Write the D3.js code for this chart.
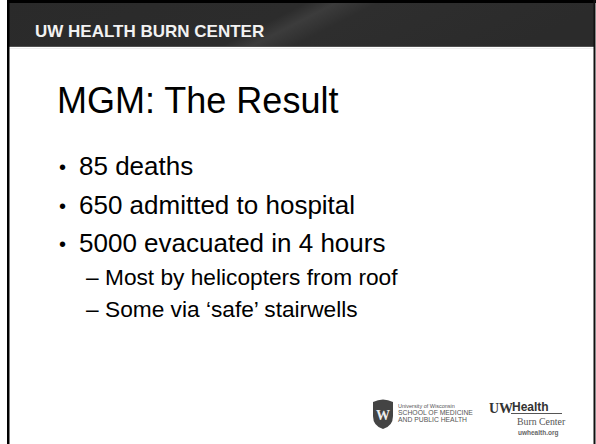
<!DOCTYPE html>
<html>
<head>
<meta charset="utf-8">
<script src="https://cdn.jsdelivr.net/npm/d3@7"></script>
<style>
  body { margin: 0; background: #fff; }
  svg { display: block; font-family: "Liberation Sans", Arial, sans-serif; }
</style>
</head>
<body>
<div id="slide"></div>
<script>
// slide content
let headerText = "UW HEALTH BURN CENTER";
let titleText = "MGM: The Result";
let bulletTexts = ["85 deaths", "650 admitted to hospital", "5000 evacuated in 4 hours"];
let subBulletTexts = ["Most by helicopters from roof", "Some via \u2018safe\u2019 stairwells"];
let schoolLines = ["University of Wisconsin", "SCHOOL OF MEDICINE", "AND PUBLIC HEALTH"];
let burnLines = ["Burn Center", "uwhealth.org"];

let svgWidth = 596;
let svgHeight = 444;

let svg = d3.select("#slide")
            .append("svg")
            .attr("width", svgWidth)
            .attr("height", svgHeight);

let defs = svg.append("defs");
let grad = defs.append("linearGradient")
               .attr("id", "hdr")
               .attr("x1", "0").attr("y1", "0")
               .attr("x2", "1").attr("y2", "0.15");
grad.append("stop").attr("offset", "0").attr("stop-color", "#2a2a2a");
grad.append("stop").attr("offset", "0.5").attr("stop-color", "#2c2c2c");
grad.append("stop").attr("offset", "0.55").attr("stop-color", "#3c3c3c");
grad.append("stop").attr("offset", "0.62").attr("stop-color", "#2e2e2e");
grad.append("stop").attr("offset", "1").attr("stop-color", "#2b2b2b");

// header bar
svg.append("rect")
   .attr("x", 7).attr("y", 2)
   .attr("width", 588).attr("height", 45)
   .attr("fill", "url(#hdr)");
svg.append("rect")
   .attr("x", 7).attr("y", 0)
   .attr("width", 589).attr("height", 3)
   .attr("fill", "#000");
svg.append("line")
   .attr("x1", 7).attr("x2", 595)
   .attr("y1", 46.5).attr("y2", 46.5)
   .attr("stroke", "#505050");
svg.append("line")
   .attr("x1", 9).attr("x2", 594)
   .attr("y1", 48.5).attr("y2", 48.5)
   .attr("stroke", "#eee");

// side borders
svg.append("rect").attr("x", 7).attr("y", 0).attr("width", 2.5).attr("height", svgHeight).attr("fill", "#000");
svg.append("rect").attr("x", 593.5).attr("y", 0).attr("width", 2).attr("height", svgHeight).attr("fill", "#111");

svg.append("text")
   .attr("x", 35).attr("y", 37)
   .attr("fill", "#f2f2f2")
   .attr("font-size", "17px")
   .attr("font-weight", "bold")
   .text(headerText);

// title
svg.append("text")
   .attr("x", 57).attr("y", 113)
   .attr("font-size", "36px")
   .attr("fill", "#000")
   .text(titleText);

// bullets
let yMain = d3.scalePoint().domain(d3.range(bulletTexts.length)).range([175, 252]);
let bulletGroup = svg.append("g").selectAll("g")
                     .data(bulletTexts)
                     .enter()
                       .append("g")
                       .attr("transform", (d, i) => `translate(0,${yMain(i)})`);
bulletGroup.append("text").attr("x", 59).attr("y", -1).attr("font-size", "20px").text("\u2022");
bulletGroup.append("text").attr("x", 79).attr("font-size", "26px").text(d => d);

let ySub = d3.scalePoint().domain(d3.range(subBulletTexts.length)).range([285, 317]);
let subGroup = svg.append("g").selectAll("g")
                  .data(subBulletTexts)
                  .enter()
                    .append("g")
                    .attr("transform", (d, i) => `translate(0,${ySub(i)})`);
subGroup.append("text").attr("x", 86).attr("font-size", "22.7px").text("\u2013");
subGroup.append("text").attr("x", 105).attr("font-size", "22.7px").text(d => d);

// school logo
let school = svg.append("g").attr("transform", "translate(373,400)");
school.append("path")
      .attr("d", "M0,2 Q10,-3 20,2 L20,16 Q20,26 10,29 Q0,26 0,16 Z")
      .attr("fill", "#444");
school.append("text")
      .attr("x", 10).attr("y", 20)
      .attr("text-anchor", "middle")
      .attr("font-family", "Liberation Serif, serif")
      .attr("font-weight", "bold")
      .attr("font-size", "14px")
      .attr("fill", "#eee")
      .text("W");
school.selectAll("text.l")
      .data(schoolLines)
      .enter()
        .append("text")
        .attr("class", "l")
        .attr("x", 25)
        .attr("y", (d, i) => 8 + i * 6.8)
        .attr("font-size", (d, i) => i === 0 ? "5.5px" : "6.8px")
        .attr("fill", "#555")
        .text(d => d);

// UW Health logo
let uwh = svg.append("g").attr("transform", "translate(489,400)");
uwh.append("text")
   .attr("x", 0).attr("y", 12.5)
   .attr("font-family", "Liberation Serif, serif")
   .attr("font-weight", "bold")
   .attr("font-size", "14px")
   .attr("fill", "#333")
   .text("UW");
uwh.append("text")
   .attr("x", 23).attr("y", 11)
   .attr("font-weight", "bold")
   .attr("font-size", "12px")
   .attr("fill", "#333")
   .text("Health");
uwh.append("line")
   .attr("x1", 22).attr("x2", 73)
   .attr("y1", 13.5).attr("y2", 13.5)
   .attr("stroke", "#555").attr("stroke-width", 1.2);
uwh.append("text")
   .attr("x", 28).attr("y", 25)
   .attr("font-family", "Liberation Serif, serif")
   .attr("font-size", "9.8px")
   .attr("fill", "#555")
   .text(burnLines[0]);
uwh.append("text")
   .attr("x", 29).attr("y", 35)
   .attr("font-size", "6.5px")
   .attr("font-weight", "bold")
   .attr("fill", "#666")
   .text(burnLines[1]);
</script>
</body>
</html>
